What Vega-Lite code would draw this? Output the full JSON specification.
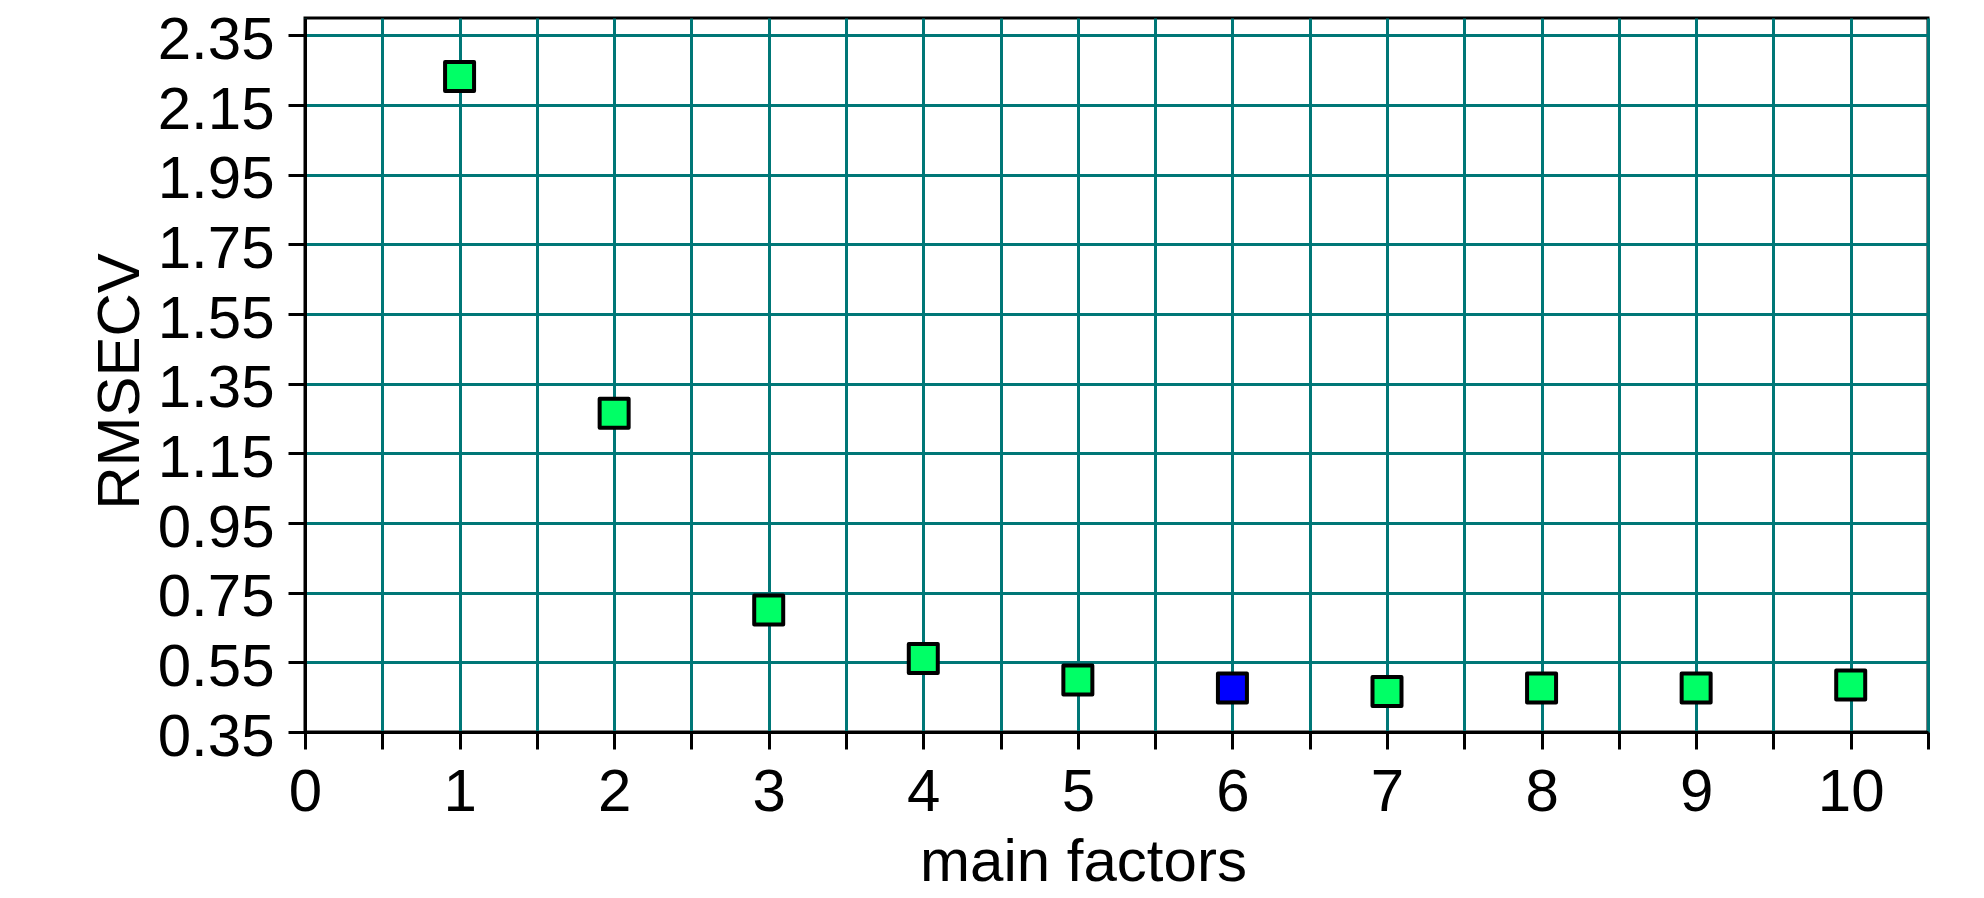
{
  "$schema": "https://vega.github.io/schema/vega-lite/v6.json",
  "width": 1623,
  "height": 714,
  "autosize": {"type": "none"},
  "padding": {"left": 305, "top": 18, "right": 56, "bottom": 166},
  "background": "white",
  "config": {
    "view": {"stroke": "black", "strokeWidth": 3},
    "font": "Liberation Sans",
    "axis": {
      "labelFont": "Liberation Sans",
      "titleFont": "Liberation Sans",
      "labelFontSize": 60,
      "titleFontSize": 60,
      "labelColor": "black",
      "titleColor": "black",
      "titleFontWeight": "normal",
      "domainColor": "black",
      "domainWidth": 3,
      "tickColor": "black",
      "tickWidth": 3,
      "tickSize": 17,
      "gridColor": "#007777",
      "gridWidth": 3,
      "gridOpacity": 1,
      "labelOverlap": false,
      "labelFlush": false
    }
  },
  "data": {
    "values": [
      {"factors": 1, "rmsecv": 2.232, "optimal": "no"},
      {"factors": 2, "rmsecv": 1.265, "optimal": "no"},
      {"factors": 3, "rmsecv": 0.700, "optimal": "no"},
      {"factors": 4, "rmsecv": 0.561, "optimal": "no"},
      {"factors": 5, "rmsecv": 0.499, "optimal": "no"},
      {"factors": 6, "rmsecv": 0.476, "optimal": "yes"},
      {"factors": 7, "rmsecv": 0.466, "optimal": "no"},
      {"factors": 8, "rmsecv": 0.476, "optimal": "no"},
      {"factors": 9, "rmsecv": 0.476, "optimal": "no"},
      {"factors": 10, "rmsecv": 0.485, "optimal": "no"}
    ]
  },
  "mark": {"type": "point", "shape": "square", "filled": true, "size": 841, "stroke": "black", "strokeWidth": 4, "opacity": 1, "strokeJoin": "round"},
  "encoding": {
    "x": {
      "field": "factors",
      "type": "quantitative",
      "scale": {"domain": [0, 10.5], "nice": false, "zero": false},
      "axis": {
        "title": "main factors",
        "values": [0, 0.5, 1, 1.5, 2, 2.5, 3, 3.5, 4, 4.5, 5, 5.5, 6, 6.5, 7, 7.5, 8, 8.5, 9, 9.5, 10, 10.5],
        "labelExpr": "datum.value % 1 === 0 ? format(datum.value, 'd') : ''",
        "labelPadding": 14,
        "labelBaseline": "top",
        "titleX": 778,
        "titleY": 148,
        "titleAlign": "center",
        "titleBaseline": "alphabetic"
      }
    },
    "y": {
      "field": "rmsecv",
      "type": "quantitative",
      "scale": {"domain": [0.35, 2.40], "nice": false, "zero": false},
      "axis": {
        "title": "RMSECV",
        "values": [0.35, 0.55, 0.75, 0.95, 1.15, 1.35, 1.55, 1.75, 1.95, 2.15, 2.35],
        "format": ".2f",
        "labelPadding": 14,
        "labelBaseline": "middle",
        "labelOffset": 5,
        "titleAngle": -90,
        "titleX": -167,
        "titleY": 363,
        "titleAlign": "center",
        "titleBaseline": "alphabetic"
      }
    },
    "fill": {
      "field": "optimal",
      "type": "nominal",
      "scale": {"domain": ["no", "yes"], "range": ["#00FF66", "#0000FF"]},
      "legend": null
    }
  }
}
